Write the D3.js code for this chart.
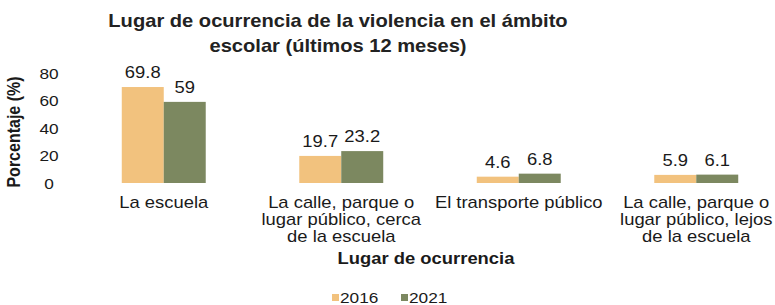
<!DOCTYPE html>
<html>
<head>
<meta charset="utf-8">
<script src="https://cdn.jsdelivr.net/npm/d3@7"></script>
<style>
  html, body { margin: 0; padding: 0; background: #fff; }
  svg { display: block; }
  text { font-family: "Liberation Sans", Arial, sans-serif; fill: #1a1a1a; }
</style>
</head>
<body>
<svg id="chart" width="775" height="305"></svg>
<script>
const categories = [
  "La escuela",
  "La calle, parque o lugar público, cerca de la escuela",
  "El transporte público",
  "La calle, parque o lugar público, lejos de la escuela"
];
const categoryLabelLines = [
  ["La escuela"],
  ["La calle, parque o", "lugar público, cerca", "de la escuela"],
  ["El transporte público"],
  ["La calle, parque o", "lugar público, lejos", "de la escuela"]
];
const seriesNames = ["2016", "2021"];
const values2016 = [69.8, 19.7, 4.6, 5.9];
const values2021 = [59, 23.2, 6.8, 6.1];
const yTicks = [0, 20, 40, 60, 80];
const titleLines = ["Lugar de ocurrencia de la violencia en el ámbito", "escolar (últimos 12 meses)"];
const yTitle = "Porcentaje (%)";
const xTitle = "Lugar de ocurrencia";
const colors = ["#f2c27e", "#7c8860"];

const SX = 1.15; // horizontal stretch of the reference picture
const svg = d3.select("#chart");

function stext(x, y, str, opts = {}) {
  return svg.append("text")
    .attr("transform", `translate(${x},${y}) scale(${SX},1)`)
    .attr("text-anchor", opts.anchor || "middle")
    .style("font-size", (opts.size || 16) + "px")
    .style("font-weight", opts.weight || "normal")
    .text(str);
}

const x0 = d3.scaleBand().domain(categories).range([75, 785])
  .paddingInner(0.527).paddingOuter(0.2635);
const x1 = d3.scaleBand().domain(seriesNames).range([0, x0.bandwidth()]);
const y = d3.scaleLinear().domain([0, 80]).range([183, 73]);

const data = categories.map((c, i) => ({
  cat: c,
  vals: [
    { s: seriesNames[0], v: values2016[i] },
    { s: seriesNames[1], v: values2021[i] }
  ]
}));

// Title
titleLines.forEach((t, i) => stext(338, 27 + i * 25, t, { size: 17.5, weight: "bold" }).style("fill", "#222"));

// Y axis
const yAxis = d3.axisLeft(y).tickValues(yTicks).tickSize(0).tickFormat(d3.format("d"));
const yg = svg.append("g").attr("transform", "translate(49,0)").call(yAxis);
yg.select(".domain").remove();
yg.selectAll(".tick text")
  .attr("x", 0).attr("dy", "0.35em")
  .attr("text-anchor", "middle")
  .attr("transform", `scale(${SX},1)`)
  .style("font-size", "15px")
  .style("font-family", "'Liberation Sans', Arial, sans-serif")
  .attr("fill", "#1a1a1a");

// Y title
svg.append("text")
  .attr("transform", "translate(20,132) rotate(-90) scale(1,1.15)")
  .attr("text-anchor", "middle")
  .style("font-size", "16px")
  .style("font-weight", "bold")
  .text(yTitle);

// Bars
const groups = svg.append("g").selectAll("g").data(data).join("g")
  .attr("transform", d => `translate(${x0(d.cat)},0)`);
groups.selectAll("rect").data(d => d.vals).join("rect")
  .attr("x", d => x1(d.s))
  .attr("y", d => y(d.v))
  .attr("width", x1.bandwidth())
  .attr("height", d => y(0) - y(d.v))
  .attr("fill", (d, i) => colors[i]);

// Value labels
data.forEach(d => {
  d.vals.forEach(v => {
    stext(x0(d.cat) + x1(v.s) + x1.bandwidth() / 2, y(v.v) - 9, String(v.v), { size: 16 });
  });
});

// Category labels
categories.forEach((c, i) => {
  const cx = x0(c) + x0.bandwidth() / 2;
  categoryLabelLines[i].forEach((line, j) => stext(cx, 208 + j * 17, line, { size: 16 }));
});

// X title
stext(426, 264, xTitle, { size: 16, weight: "bold" });

// Legend
const legendX = [332, 401];
seriesNames.forEach((s, i) => {
  svg.append("rect").attr("x", legendX[i]).attr("y", 294).attr("width", 7).attr("height", 7).attr("fill", colors[i]);
  stext(legendX[i] + 8, 303, s, { size: 15, anchor: "start" });
});
</script>
</body>
</html>
